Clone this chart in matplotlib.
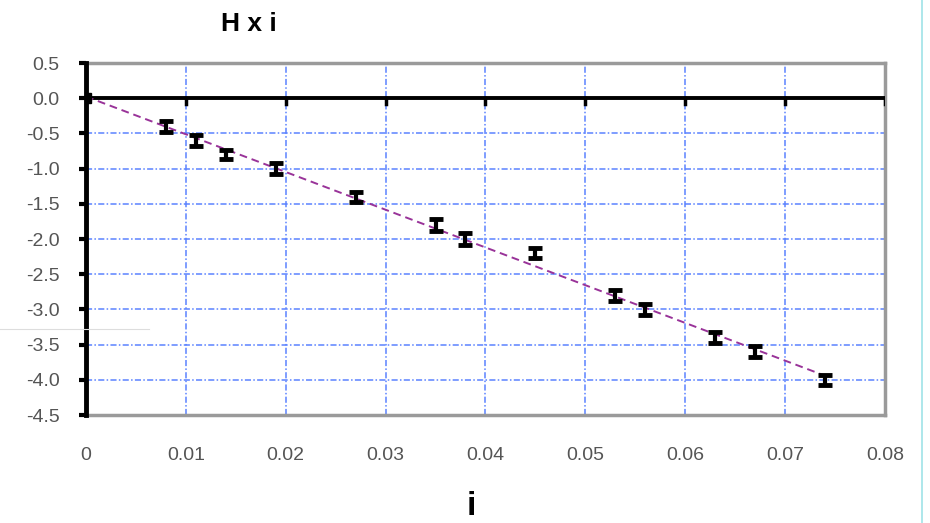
from matplotlib import pyplot as plt
import numpy as np

plt.rcParams['font.family'] = ['Liberation Sans', 'DejaVu Sans']

# dados
i_vals = [0.0, 0.008, 0.011, 0.014, 0.019, 0.027, 0.035, 0.038, 0.045,
          0.053, 0.056, 0.063, 0.067, 0.074]
H_vals = [0.0, -0.4, -0.6, -0.8, -1.0, -1.4, -1.8, -2.0, -2.2,
          -2.8, -3.0, -3.4, -3.6, -4.0]
H_err = [0.0, 0.08, 0.08, 0.07, 0.08, 0.07, 0.08, 0.08, 0.07,
         0.08, 0.08, 0.08, 0.08, 0.07]
x_ticks = [0, 0.01, 0.02, 0.03, 0.04, 0.05, 0.06, 0.07, 0.08]
x_labels = ['0', '0.01', '0.02', '0.03', '0.04', '0.05', '0.06', '0.07', '0.08']
y_ticks = [0.5, 0.0, -0.5, -1.0, -1.5, -2.0, -2.5, -3.0, -3.5, -4.0, -4.5]

fig = plt.figure(figsize=(9.3, 5.23), dpi=100)
ax = fig.add_axes([0.0925, 0.2065, 0.859, 0.673])

ax.set_xlim(0, 0.08)
ax.set_ylim(-4.5, 0.5)

# grade azul tracejada
ax.grid(True, color='#5b82ff', linestyle=(0, (4, 1.5, 1, 1.5)), linewidth=1.1)
ax.set_axisbelow(True)

# linha do zero com marcas
ax.axhline(0, color='black', linewidth=2.8, zorder=3)
for xt in x_ticks[1:]:
    ax.plot([xt, xt], [0, -0.08], color='black', linewidth=2.5, zorder=3)

# linha de tendencia
x = np.array(i_vals)
y = np.array(H_vals)
a, b = np.polyfit(x, y, 1)
xx = np.array([0, x.max()])
ax.plot(xx, a * xx + b, color='#993399', linestyle=(0, (4, 2.5)),
        linewidth=1.4, zorder=4)

# pontos com barras de erro
ax.errorbar(i_vals[1:], H_vals[1:], yerr=H_err[1:], fmt='none', ecolor='black',
            elinewidth=3, capsize=5, capthick=3.5, zorder=5)
ax.plot([0], [0], marker='s', color='black', markersize=7, zorder=5)

for s in ['top', 'right', 'bottom']:
    ax.spines[s].set_color('#9a9a9a')
    ax.spines[s].set_linewidth(2.5)
ax.spines['left'].set_color('black')
ax.spines['left'].set_linewidth(3.5)
ax.spines['left'].set_zorder(6)

ax.set_yticks(y_ticks)
ax.set_yticklabels(['%.1f' % v for v in y_ticks], color='#555555', fontsize=14)
ax.tick_params(axis='y', direction='out', length=5, width=3, color='black', pad=14)
ax.set_xticks(x_ticks)
ax.set_xticklabels(x_labels, color='#555555', fontsize=14)
ax.tick_params(axis='x', length=0, pad=23)

fig.text(0.268, 0.955, 'H x i', fontsize=19, fontweight='bold', ha='center', va='center')
fig.text(0.507, 0.032, 'i', fontsize=24, fontweight='bold', ha='center', va='center')

# linhas soltas da imagem original
fig.add_artist(plt.Line2D([0.9915, 0.9915], [0, 1], color='#9fe3e8', linewidth=1.2))
fig.add_artist(plt.Line2D([0, 0.16], [0.371, 0.371], color='#dddddd', linewidth=0.8))

plt.savefig('out.png', dpi=100)
